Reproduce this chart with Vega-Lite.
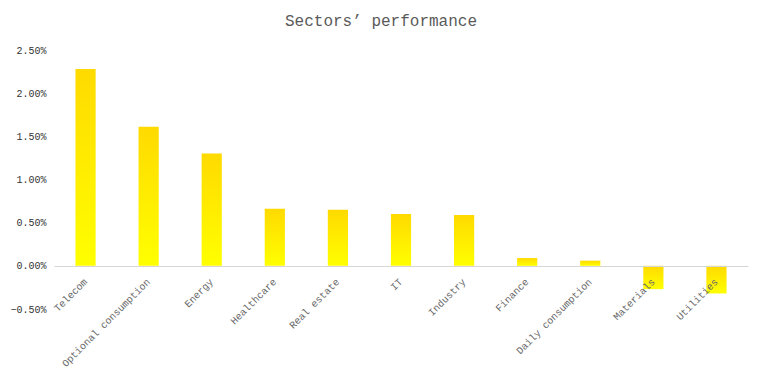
{
  "$schema": "https://vega.github.io/schema/vega-lite/v6.json",
  "width": 694,
  "height": 259,
  "autosize": {"type": "none"},
  "padding": {"left": 54, "top": 50, "right": 14, "bottom": 66},
  "background": "white",
  "config": {"view": {"stroke": null}},
  "title": {
    "text": "Sectors’ performance",
    "font": "Liberation Mono",
    "fontSize": 16,
    "fontWeight": "normal",
    "color": "#5a5a5a",
    "anchor": "middle",
    "frame": "group",
    "dx": -20,
    "offset": 16
  },
  "data": {
    "values": [
      {"sector": "Telecom", "value": 0.0228},
      {"sector": "Optional consumption", "value": 0.0161},
      {"sector": "Energy", "value": 0.0130},
      {"sector": "Healthcare", "value": 0.0066},
      {"sector": "Real estate", "value": 0.0065},
      {"sector": "IT", "value": 0.0060},
      {"sector": "Industry", "value": 0.0059},
      {"sector": "Finance", "value": 0.0009},
      {"sector": "Daily consumption", "value": 0.0006},
      {"sector": "Materials", "value": -0.0027},
      {"sector": "Utilities", "value": -0.0032}
    ]
  },
  "mark": {
    "type": "bar",
    "color": {
      "gradient": "linear",
      "x1": 0, "y1": 0, "x2": 0, "y2": 1,
      "stops": [
        {"offset": 0, "color": "#FFDA00"},
        {"offset": 1, "color": "#FFFF00"}
      ]
    }
  },
  "encoding": {
    "x": {
      "field": "sector",
      "type": "nominal",
      "sort": null,
      "scale": {"paddingInner": 0.68, "paddingOuter": 0.34},
      "axis": {
        "title": null,
        "offset": -43,
        "zindex": 1,
        "domain": true,
        "domainColor": "#d6d6d6",
        "domainWidth": 1,
        "ticks": false,
        "grid": false,
        "labelAngle": -45,
        "labelAlign": "right",
        "labelBaseline": "middle",
        "labelPadding": 14,
        "labelFont": "Liberation Mono",
        "labelFontSize": 10,
        "labelColor": "#666666",
        "labelOverlap": false,
        "labelLimit": 300,
        "encode": {
          "labels": {
            "enter": {
              "dx": {"signal": "length(datum.label) > 15 ? 7 : 0"},
              "dy": {"signal": "length(datum.label) > 15 ? 7 : 0"}
            },
            "update": {
              "dx": {"signal": "length(datum.label) > 15 ? 7 : 0"},
              "dy": {"signal": "length(datum.label) > 15 ? 7 : 0"}
            }
          }
        }
      }
    },
    "y": {
      "field": "value",
      "type": "quantitative",
      "scale": {"domain": [-0.005, 0.025], "nice": false, "zero": false},
      "axis": {
        "title": null,
        "domain": false,
        "ticks": false,
        "grid": false,
        "values": [-0.005, 0, 0.005, 0.01, 0.015, 0.02, 0.025],
        "format": ".2%",
        "labelPadding": 8,
        "labelFont": "Liberation Mono",
        "labelFontSize": 10,
        "labelColor": "#333333"
      }
    }
  }
}
